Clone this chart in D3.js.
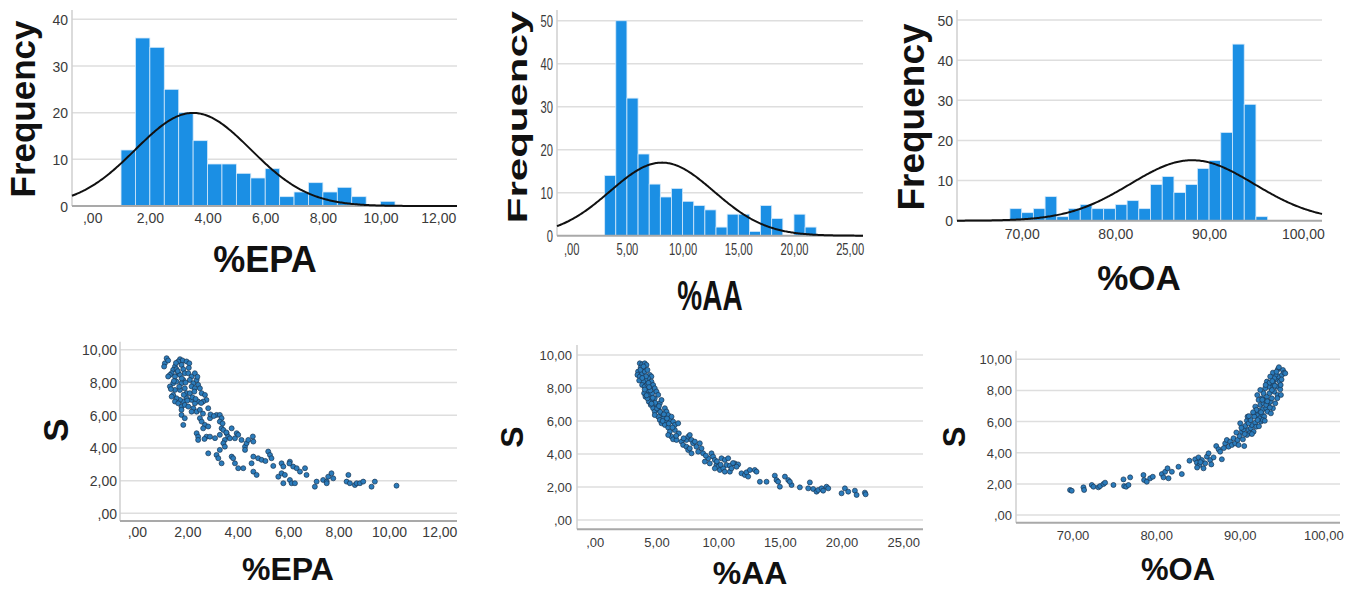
<!DOCTYPE html>
<html>
<head>
<meta charset="utf-8">
<script src="https://cdn.jsdelivr.net/npm/d3@7"></script>
<style>
body { margin: 0; background: #fff; }
svg { display: block; font-family: "Liberation Sans", Arial, sans-serif; }
</style>
</head>
<body>
<svg id="chart" width="1354" height="591"></svg>
<script>
// histogram counts, bin [start, width], fitted normal [mean, sd]
var epaCounts = [12, 36, 34, 25, 20, 14, 9, 9, 7, 6, 8, 2, 3, 5, 3, 4, 2, 0, 1];
var epaBin = [1.0, 0.5];
var epaNorm = [3.5, 2.0];

var aaCounts = [14, 50, 32, 19, 12, 9, 11, 8, 7, 6, 2, 5, 5, 1, 7, 4, 0, 5, 2];
var aaBin = [3.0, 1.0];
var aaNorm = [8.14, 4.67];

var oaCounts = [3, 2, 3, 6, 1, 3, 4, 3, 3, 4, 5, 3, 9, 11, 7, 9, 13, 15, 22, 44, 29, 1];
var oaBin = [68.75, 1.25];
var oaNorm = [88.2, 6.62];

// tick values
var epaTicks = [0, 2, 4, 6, 8, 10, 12];
var aaTicks = [0, 5, 10, 15, 20, 25];
var oaTicks = [70, 80, 90, 100];
var freqTicks40 = [0, 10, 20, 30, 40];
var freqTicks50 = [0, 10, 20, 30, 40, 50];
var sTicks = [0, 2, 4, 6, 8, 10];

// scatter points [x, S]
var epaPoints = [
  [1.18,9.49],[1.11,9.18],[1.08,8.98],[1.24,9.35],[1.71,9.43],[1.81,9.35],[1.97,9.29],[2.08,9.18],
  [1.64,9.29],[1.51,8.98],[1.44,8.78],[1.38,8.57],[1.57,8.82],[1.77,9.08],[1.84,8.82],[1.90,8.57],
  [1.31,8.47],[1.24,8.37],[1.64,8.57],[1.51,8.37],[1.71,8.47],[2.04,8.57],[2.17,8.37],[2.30,8.57],
  [2.10,8.16],[2.24,7.96],[2.37,8.16],[2.43,7.86],[2.17,7.76],[2.30,7.65],[1.84,8.16],[1.77,7.96],
  [1.57,8.06],[1.44,7.96],[1.31,7.76],[1.51,7.55],[1.71,7.55],[1.90,7.65],[1.97,7.35],[2.10,7.35],
  [2.50,7.65],[2.57,7.35],[2.70,7.24],[2.76,6.94],[2.63,6.84],[2.43,6.84],[2.30,6.73],[2.17,6.94],
  [1.97,7.04],[1.84,6.84],[1.71,6.94],[1.57,7.04],[1.44,7.24],[1.38,7.14],[1.51,6.84],[1.64,6.73],
  [1.77,6.53],[1.90,6.63],[2.04,6.53],[2.24,6.43],[2.37,6.22],[2.17,6.22],[1.77,6.33],[2.50,6.33],
  [2.83,6.43],[1.77,6.02],[1.90,5.82],[1.84,5.41],[2.50,5.82],[2.57,5.61],[2.70,5.41],[2.83,5.31],
  [2.90,5.82],[3.16,6.02],[3.29,6.02],[3.36,5.82],[3.29,5.61],[3.36,5.20],[2.63,5.20],[2.37,4.90],
  [2.43,4.69],[2.43,4.49],[2.76,4.69],[2.90,4.69],[3.29,4.80],[3.43,5.10],[3.56,4.90],[3.62,4.69],
  [3.76,5.20],[3.96,4.90],[4.02,4.80],[3.89,4.59],[3.69,4.59],[3.49,4.49],[3.43,4.29],[3.49,4.08],
  [3.29,3.88],[3.16,3.57],[3.23,3.37],[2.83,3.67],[3.36,3.06],[3.76,3.47],[3.82,3.37],[3.89,3.06],
  [4.02,2.76],[4.22,2.76],[4.29,4.08],[4.35,4.29],[4.42,4.49],[4.15,4.49],[4.29,3.88],[4.62,4.39],
  [4.55,3.06],[4.62,2.55],[4.75,2.35],[4.62,3.47],[4.81,3.37],[4.95,3.27],[5.21,3.78],[5.28,3.57],
  [5.34,3.37],[5.41,2.90],[5.74,3.06],[5.81,2.86],[5.61,2.24],[5.74,2.45],[5.87,2.35],[5.81,1.84],
  [6.07,3.16],[6.20,2.86],[6.34,2.76],[6.47,2.55],[6.67,2.76],[6.73,2.35],[6.07,2.04],[6.14,1.84],
  [6.27,1.84],[7.06,1.63],[7.13,1.94],[7.39,2.04],[7.53,1.94],[7.59,2.24],[7.72,2.45],[7.53,1.84],
  [7.79,2.14],[8.39,2.35],[8.32,1.94],[8.45,1.84],[8.65,1.73],[8.72,1.84],[8.85,1.84],[8.98,1.94],
  [9.31,1.63],[9.44,1.94],[10.30,1.69],
  [1.62,8.70],[1.93,8.00],[2.20,7.10],[1.68,7.75],[2.33,7.00],[2.00,6.90],[1.86,7.25],[2.62,6.10],
  [2.06,8.90],[1.55,9.20],[2.92,6.05],[3.05,5.95],[3.40,5.50],[3.10,4.60],[2.68,4.55],[1.47,8.10],
  [1.78,8.25],[2.28,7.45],[2.40,8.35],[1.35,7.60],[2.55,6.75],[3.55,4.95],[4.60,4.70],[5.10,3.20],
  [6.05,3.05]
];

var aaPoints = [
  [3.65,9.49],[3.84,9.43],[4.05,9.49],[4.19,9.39],[3.73,9.23],[3.92,9.15],[3.51,8.99],[3.46,8.79],
  [3.65,8.69],[3.84,8.89],[4.05,8.99],[4.27,9.09],[4.46,8.79],[4.59,8.69],[4.32,8.59],[4.11,8.48],
  [3.92,8.38],[3.84,8.18],[4.05,8.08],[4.27,8.22],[4.59,8.38],[4.73,8.18],[4.86,7.98],[4.46,7.98],
  [4.19,7.78],[4.00,7.68],[4.11,7.47],[4.38,7.58],[4.65,7.68],[5.00,7.78],[5.14,7.58],[4.86,7.37],
  [4.59,7.27],[4.38,7.17],[4.27,7.37],[4.54,6.97],[4.73,6.77],[4.86,6.57],[5.00,6.97],[5.27,7.07],
  [5.41,7.27],[5.19,6.67],[5.41,6.46],[5.68,6.77],[5.81,6.57],[5.62,6.26],[5.95,6.36],[6.08,6.06],
  [6.22,6.26],[6.35,5.96],[6.49,5.76],[5.81,5.96],[5.54,6.16],[5.14,6.26],[4.86,6.36],[5.27,6.06],
  [5.41,5.86],[5.68,5.76],[5.95,5.60],[6.08,5.35],[6.22,5.05],[5.95,5.15],[6.35,4.89],[6.62,4.85],
  [6.76,5.86],[6.49,5.45],[6.81,5.25],[7.03,4.75],[7.16,4.55],[7.43,4.85],[7.57,5.05],[7.70,5.15],
  [7.84,4.85],[7.97,4.65],[8.11,4.75],[7.43,4.44],[7.57,4.24],[7.70,4.34],[7.84,4.04],[8.24,4.44],
  [8.51,4.65],[8.65,4.34],[8.38,4.14],[8.78,4.04],[9.46,4.04],[9.59,3.84],[9.19,3.74],[8.92,3.54],
  [9.32,3.43],[9.73,3.64],[9.86,3.33],[10.00,3.23],[9.73,3.13],[10.14,3.03],[10.27,3.74],[10.54,3.64],
  [10.81,3.74],[10.68,3.33],[10.95,3.29],[10.41,3.13],[10.54,2.93],[10.95,2.93],[11.35,3.43],[11.62,3.37],
  [11.49,3.23],[11.08,3.13],[11.89,2.83],[12.16,2.73],[12.30,2.89],[12.57,3.03],[12.97,3.03],[13.11,2.93],
  [12.43,2.63],[13.38,2.32],[13.92,2.32],[14.59,2.69],[14.73,2.42],[15.00,2.02],[14.86,2.32],[15.41,2.63],
  [15.68,2.42],[15.95,2.12],[15.81,2.32],[16.62,1.98],[17.30,1.92],[17.43,2.28],[17.70,1.88],[17.97,1.72],
  [18.11,1.82],[18.38,1.92],[18.51,1.78],[18.78,2.02],[18.92,1.92],[20.00,1.62],[20.27,1.92],[20.54,1.72],
  [21.08,1.78],[21.22,1.52],[21.89,1.66],[21.95,1.56],
  [3.70,9.10],[3.95,9.30],[4.15,8.70],[3.60,8.45],[4.35,8.30],[4.50,7.85],[4.20,7.55],[4.70,7.40],
  [4.90,7.10],[5.05,6.75],[5.30,6.55],[5.60,6.40],[5.20,6.90],[5.85,6.15],[6.00,5.85],[6.30,5.60],
  [4.40,8.05],[3.85,8.60],[4.05,7.90],[4.60,7.05],[5.50,6.00],[6.60,5.10],[7.20,4.95],[9.00,3.90],
  [9.90,3.55],[11.20,3.45],[10.20,3.35]
];

var oaPoints = [
  [69.70,1.61],[69.90,1.56],[71.30,1.78],[71.38,1.61],[72.30,1.93],[72.50,1.82],[73.09,1.78],[73.29,1.86],
  [73.69,1.99],[73.89,2.08],[74.89,1.93],[76.09,2.29],[76.17,1.86],[76.41,1.82],[76.69,1.93],[76.89,2.42],
  [78.48,2.57],[78.56,2.25],[78.88,2.14],[79.28,2.36],[79.60,2.46],[80.68,2.63],[80.88,2.42],[81.08,2.78],
  [81.36,3.00],[81.48,2.36],[81.88,2.78],[82.67,3.10],[83.07,2.63],[83.99,3.49],[84.67,3.58],[84.87,3.36],
  [85.07,3.70],[85.19,3.21],[85.47,3.53],[85.67,3.00],[85.87,3.32],[86.07,3.75],[86.27,3.96],[86.47,3.53],
  [86.87,3.70],[87.19,4.43],[87.47,4.22],[87.66,4.07],[87.86,3.58],[88.26,4.60],[88.46,4.82],[88.66,4.39],
  [88.86,4.71],[89.06,4.50],[89.26,4.93],[89.46,4.60],[89.74,4.82],[89.98,5.07],[90.06,5.89],[90.26,5.35],
  [90.46,5.50],[90.54,4.43],[90.66,5.72],[90.86,6.06],[90.94,6.32],[91.06,5.46],[91.18,5.25],[91.34,5.57],
  [91.46,5.78],[91.66,5.35],[91.86,5.93],[91.98,5.67],[92.06,6.42],[92.26,6.70],[92.38,6.21],[92.46,7.07],
  [92.54,6.00],[92.65,6.49],[92.77,6.79],[92.85,7.17],[92.93,6.32],[93.05,7.39],[93.17,6.85],[93.25,7.60],
  [93.33,6.64],[93.45,7.07],[93.57,7.82],[93.65,7.28],[93.73,8.20],[93.85,7.49],[93.97,6.85],[94.05,8.46],
  [94.13,7.92],[94.25,7.17],[94.37,8.72],[94.45,8.24],[94.53,7.71],[94.65,8.89],[94.77,8.57],[94.85,8.07],
  [94.93,7.71],[95.05,8.99],[95.17,9.31],[95.33,9.14],[95.45,9.10],[94.57,9.36],[94.29,8.99],[93.85,8.03],
  [93.45,8.24],[93.05,8.14],[92.85,7.82],[93.25,8.57],[92.65,7.49],[92.26,7.39],[91.86,6.96],[91.66,6.53],
  [92.46,8.03],[93.97,9.14],[94.69,9.49],[94.13,8.78],[93.65,8.89],[93.17,7.07],[92.77,6.10],[93.73,6.53],
  [92.14,6.10],[91.74,6.32],[91.46,5.20],[90.86,5.14],[90.38,4.86],[89.86,4.50],[91.06,5.89],[93.57,8.50],
  [93.30,7.30],[93.90,8.60],[94.40,9.20],[92.00,6.75],[92.70,7.40],[93.60,6.90],[94.90,8.35],[92.30,5.70],
  [91.30,6.10],[90.60,5.20],[93.10,8.35],[94.20,8.30],[92.55,6.60],[91.60,6.60],[89.60,5.30],[88.10,4.30],
  [85.30,3.40],[84.90,3.05],[86.60,3.25],[94.50,7.50],[95.00,8.70],[93.00,6.05],[92.10,7.70],[91.10,6.35],
  [90.20,5.60]
];

var svg = d3.select("#chart");

function fmt(d) {
  return d3.format(".2f")(d).replace(".", ",").replace(/^0,/, ",");
}

function styleTicks(g, size, sx, sy, anchor) {
  g.select(".domain").remove();
  g.selectAll(".tick line").remove();
  g.selectAll(".tick text")
    .attr("x", 0).attr("y", 0).attr("dy", null)
    .attr("dominant-baseline", "central")
    .attr("text-anchor", anchor)
    .attr("transform", "scale(" + sx + "," + sy + ")")
    .attr("fill", "#3a3a3a")
    .style("font-size", size + "px");
}

function axisTitle(text, x, y, size, rot, sx, sy) {
  svg.append("text")
    .attr("transform", "translate(" + x + "," + y + ")" + (rot ? " rotate(-90)" : "") + " scale(" + sx + "," + sy + ")")
    .attr("text-anchor", "middle")
    .attr("font-weight", "bold")
    .attr("fill", "#111")
    .style("font-size", size + "px")
    .text(text);
}

function histogram(p) {
  var x = d3.scaleLinear().domain(p.xDom).range([p.left, p.right]);
  var y = d3.scaleLinear().domain(p.yDom).range([p.bottom, p.top]);
  var g = svg.append("g");

  g.selectAll(".grid")
    .data(p.yTicks.filter(function(d) { return d > 0; }))
    .enter().append("line")
    .attr("x1", p.left).attr("x2", p.right)
    .attr("y1", function(d) { return y(d); }).attr("y2", function(d) { return y(d); })
    .attr("stroke", "#dedede").attr("stroke-width", 1.5);

  var bins = p.counts.map(function(c, i) {
    return { x0: p.start + i * p.width, x1: p.start + (i + 1) * p.width, c: c };
  });
  g.selectAll("rect")
    .data(bins.filter(function(b) { return b.c > 0; }))
    .enter().append("rect")
    .attr("x", function(b) { return x(b.x0); })
    .attr("width", function(b) { return x(b.x1) - x(b.x0); })
    .attr("y", function(b) { return y(b.c); })
    .attr("height", function(b) { return y(0) - y(b.c); })
    .attr("fill", "#1b8fe4")
    .attr("stroke", "#d4e9fa")
    .attr("stroke-width", 0.8);

  // axis lines
  g.append("line").attr("x1", p.left).attr("x2", p.left).attr("y1", p.top).attr("y2", p.bottom)
    .attr("stroke", "#cfcfcf").attr("stroke-width", 1.5);
  g.append("line").attr("x1", p.left).attr("x2", p.right).attr("y1", y(0)).attr("y2", y(0))
    .attr("stroke", "#a9a9a9").attr("stroke-width", 2);

  // fitted normal curve
  var n = d3.sum(p.counts);
  var xs = d3.range(301).map(function(i) { return p.xDom[0] + (p.xDom[1] - p.xDom[0]) * i / 300; });
  var line = d3.line()
    .x(function(d) { return x(d); })
    .y(function(d) {
      var z = (d - p.mean) / p.sd;
      return y(n * p.width * Math.exp(-0.5 * z * z) / (p.sd * Math.sqrt(2 * Math.PI)));
    });
  g.append("path").datum(xs).attr("d", line)
    .attr("fill", "none").attr("stroke", "#111").attr("stroke-width", 2);

  svg.append("g").attr("transform", "translate(0," + p.xLabelY + ")")
    .call(d3.axisBottom(x).tickValues(p.xTicks).tickFormat(fmt).tickSize(0))
    .call(function(a) { styleTicks(a, 14, p.sx, p.sy, "middle"); });
  svg.append("g").attr("transform", "translate(" + p.yLabelX + ",0)")
    .call(d3.axisLeft(y).tickValues(p.yTicks).tickFormat(d3.format("d")).tickSize(0))
    .call(function(a) { styleTicks(a, 14, p.sx, p.sy, "end"); });

  axisTitle("Frequency", p.freqX, p.freqY, p.freqSize, true, p.sy, p.sx);
  axisTitle(p.title, p.titleX, p.titleY, p.titleSize, false, p.sx, p.sy);
}

function scatter(p) {
  var x = d3.scaleLinear().domain(p.xDom).range([p.left, p.right]);
  var y = d3.scaleLinear().domain(p.yDom).range([p.bottom, p.top]);
  var g = svg.append("g");

  g.selectAll(".grid").data(sTicks).enter().append("line")
    .attr("x1", p.left).attr("x2", p.right)
    .attr("y1", function(d) { return y(d); }).attr("y2", function(d) { return y(d); })
    .attr("stroke", "#dedede").attr("stroke-width", 1.5);
  g.append("line").attr("x1", p.left).attr("x2", p.left).attr("y1", p.top).attr("y2", p.bottom)
    .attr("stroke", "#cfcfcf").attr("stroke-width", 1.5);
  g.append("line").attr("x1", p.left).attr("x2", p.right).attr("y1", p.bottom).attr("y2", p.bottom)
    .attr("stroke", "#a9a9a9").attr("stroke-width", 2);

  g.selectAll("circle").data(p.points).enter().append("circle")
    .attr("cx", function(d) { return x(d[0]); })
    .attr("cy", function(d) { return y(d[1]); })
    .attr("r", 2.5)
    .attr("fill", "#2b7cbc")
    .attr("stroke", "#1a3552")
    .attr("stroke-width", 0.7);

  svg.append("g").attr("transform", "translate(0," + p.xLabelY + ")")
    .call(d3.axisBottom(x).tickValues(p.xTicks).tickFormat(fmt).tickSize(0))
    .call(function(a) { styleTicks(a, p.tickSize, 1, 1, "middle"); });
  svg.append("g").attr("transform", "translate(" + p.yLabelX + ",0)")
    .call(d3.axisLeft(y).tickValues(sTicks).tickFormat(fmt).tickSize(0))
    .call(function(a) { styleTicks(a, p.tickSize, 1, 1, "end"); });

  axisTitle("S", p.sX, p.sY, p.sSize, true, 1, 1);
  axisTitle(p.title, p.titleX, p.titleY, p.titleSize, false, 1, 1);
}

histogram({
  counts: epaCounts, start: epaBin[0], width: epaBin[1], mean: epaNorm[0], sd: epaNorm[1],
  xTicks: epaTicks, yTicks: freqTicks40,
  xDom: [-0.7, 12.65], yDom: [0, 42], left: 72, right: 457, top: 10, bottom: 206,
  xLabelY: 218, yLabelX: 68, sx: 1, sy: 1,
  title: "%EPA", titleX: 265, titleY: 272, titleSize: 36,
  freqX: 35, freqY: 109, freqSize: 35
});

histogram({
  counts: aaCounts, start: aaBin[0], width: aaBin[1], mean: aaNorm[0], sd: aaNorm[1],
  xTicks: aaTicks, yTicks: freqTicks50,
  xDom: [-1.28, 26.2], yDom: [0, 52.5], left: 557, right: 863, top: 10, bottom: 235.7,
  xLabelY: 249, yLabelX: 553, sx: 0.8, sy: 1.2,
  title: "%AA", titleX: 710, titleY: 310, titleSize: 35,
  freqX: 527, freqY: 117, freqSize: 35
});

histogram({
  counts: oaCounts, start: oaBin[0], width: oaBin[1], mean: oaNorm[0], sd: oaNorm[1],
  xTicks: oaTicks, yTicks: freqTicks50,
  xDom: [63.1, 102.05], yDom: [0, 52.5], left: 957, right: 1322, top: 10, bottom: 220.7,
  xLabelY: 234, yLabelX: 953, sx: 1, sy: 1,
  title: "%OA", titleX: 1139, titleY: 290, titleSize: 35,
  freqX: 924, freqY: 117, freqSize: 37
});

scatter({
  points: epaPoints, xTicks: epaTicks,
  xDom: [-0.67, 12.7], yDom: [-0.47, 10.5], left: 120, right: 457, top: 341.7, bottom: 521,
  xLabelY: 532, yLabelX: 117, tickSize: 14,
  title: "%EPA", titleX: 288, titleY: 580, titleSize: 32,
  sX: 68, sY: 430, sSize: 35
});

scatter({
  points: aaPoints, xTicks: aaTicks,
  xDom: [-1.44, 26.6], yDom: [-0.56, 10.6], left: 577, right: 923, top: 345, bottom: 529.3,
  xLabelY: 542, yLabelX: 572, tickSize: 13,
  title: "%AA", titleX: 750, titleY: 584, titleSize: 32,
  sX: 523, sY: 437, sSize: 32
});

scatter({
  points: oaPoints, xTicks: oaTicks,
  xDom: [63.23, 102], yDom: [-0.49, 10.55], left: 1016, right: 1340, top: 350.7, bottom: 522.7,
  xLabelY: 535, yLabelX: 1012, tickSize: 13,
  title: "%OA", titleX: 1178, titleY: 580, titleSize: 31,
  sX: 965, sY: 437, sSize: 31
});
</script>
</body>
</html>
